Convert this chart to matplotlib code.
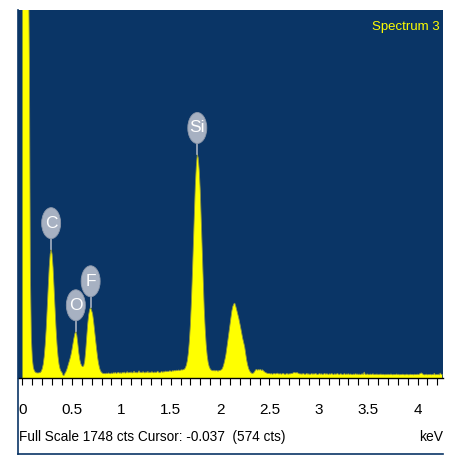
import numpy as np
import matplotlib
matplotlib.use('Agg')
import matplotlib.pyplot as plt
from matplotlib.patches import Ellipse
from matplotlib.lines import Line2D
from matplotlib.ticker import MultipleLocator, FuncFormatter

plt.rcParams['font.family'] = ['Liberation Sans Narrow', 'Liberation Sans', 'DejaVu Sans']

# Спектр: отсчёты по каналам с шагом 0.01 кэВ, начиная с 0
step = 0.01
counts = np.array([
    2600, 4200, 4800, 4500, 3600, 2700, 2000, 1500, 500, 190,   # 0.00
    90, 50, 35, 28, 25, 24, 24, 25, 26, 32,                     # 0.10
    44, 65, 102, 158, 234, 329, 431, 523, 588, 612,             # 0.20
    588, 523, 431, 329, 234, 158, 102, 65, 44, 32,              # 0.30
    26, 14, 12, 22, 30, 42, 58, 74, 90, 108,                    # 0.40
    132, 160, 188, 210, 222, 205, 165, 120, 88, 68,             # 0.50
    58, 54, 58, 80, 130, 195, 255, 300, 325, 336,               # 0.60
    320, 305, 270, 225, 180, 140, 100, 70, 48, 34,              # 0.70
    27, 23, 21, 22, 20, 23, 21, 24, 22, 20,                     # 0.80
    24, 21, 25, 23, 26, 22, 24, 27, 23, 25,                     # 0.90
    22, 26, 24, 28, 23, 25, 30, 24, 27, 25,                     # 1.00
    29, 24, 26, 32, 25, 28, 24, 27, 34, 26,                     # 1.10
    28, 25, 30, 27, 24, 29, 26, 31, 25, 28,                     # 1.20
    26, 30, 27, 25, 29, 26, 28, 32, 27, 25,                     # 1.30
    28, 31, 27, 30, 29, 33, 30, 32, 31, 34,                     # 1.40
    33, 31, 35, 33, 36, 34, 37, 35, 38, 36,                     # 1.50
    37, 39, 38, 40, 42, 49, 62, 84, 121, 177,                   # 1.60
    253, 358, 487, 633, 782, 915, 1005, 1064, 1045, 985,        # 1.70
    891, 752, 603, 459, 334, 235, 160, 108, 75, 55,             # 1.80
    44, 38, 36, 34, 37, 33, 36, 35, 32, 36,                     # 1.90
    36, 38, 42, 52, 68, 88, 112, 145, 180, 215,                 # 2.00
    250, 285, 318, 340, 352, 355, 340, 322, 303, 284,           # 2.10
    262, 238, 212, 188, 168, 148, 115, 85, 62, 45,              # 2.20
    34, 27, 23, 22, 24, 30, 38, 41, 37, 40,                     # 2.30
    38, 41, 36, 39, 34, 30, 26, 24, 22, 21,                     # 2.40
    22, 19, 21, 18, 20, 22, 19, 21, 23, 20,                     # 2.50
    19, 21, 18, 20, 22, 19, 17, 20, 21, 18,                     # 2.60
    20, 19, 22, 21, 24, 26, 25, 24, 26, 23,                     # 2.70
    21, 19, 20, 18, 21, 20, 17, 19, 22, 18,                     # 2.80
    20, 17, 19, 21, 18, 20, 19, 22, 18, 17,                     # 2.90
    19, 21, 18, 20, 17, 19, 22, 18, 20, 19,                     # 3.00
    17, 20, 18, 21, 19, 16, 20, 18, 19, 21,                     # 3.10
    18, 17, 20, 19, 16, 18, 21, 17, 19, 18,                     # 3.20
    20, 17, 19, 18, 16, 19, 17, 20, 18, 19,                     # 3.30
    17, 19, 16, 18, 20, 17, 28, 18, 17, 19,                     # 3.40
    18, 16, 19, 17, 18, 20, 16, 18, 17, 19,                     # 3.50
    16, 18, 17, 19, 16, 18, 17, 15, 18, 16,                     # 3.60
    18, 17, 16, 19, 17, 15, 18, 16, 17, 19,                     # 3.70
    16, 18, 15, 17, 16, 18, 17, 15, 16, 18,                     # 3.80
    17, 15, 16, 18, 16, 17, 15, 18, 16, 17,                     # 3.90
    18, 16, 19, 22, 24, 20, 17, 15, 16, 18,                     # 4.00
    15, 17, 16, 18, 15, 17, 16, 22, 15, 17,                     # 4.10
    16, 18, 15, 23, 17, 16,                                     # 4.20
])
energy = np.round(np.arange(len(counts)) * step, 2)

# Подписи пиков элементов
elements = ['C', 'O', 'F', 'Si']
element_energy = [0.29, 0.54, 0.69, 1.77]

full_scale = 1748
title = 'Spectrum 3'
status = 'Full Scale 1748 cts Cursor: -0.037  (574 cts)'

bg = '#0a3566'
yellow = '#ffff00'
badge = '#a7b1c2'

W, H = 450, 459
fig = plt.figure(figsize=(W / 100, H / 100), dpi=100)

x0, x1, y0, y1 = 17.7, 443, 10, 378
ax = fig.add_axes([x0 / W, 1 - y1 / H, (x1 - x0) / W, (y1 - y0) / H])
ax.set_facecolor(bg)
ax.set_xlim(-0.0486, 4.258)
ax.set_ylim(0, full_scale)

ax.fill_between(energy, counts, 0, color=yellow, lw=0, zorder=2)
ax.plot(energy, counts, color='#8c9440', lw=0.6, zorder=3)

# Овальные метки элементов над пиками
px_e = 1 / 98.75            # кэВ на пиксель
px_c = full_scale / (y1 - y0)  # отсчётов на пиксель
for name, e in zip(elements, element_energy):
    tip = counts[np.argmin(np.abs(energy - e))]
    cy = tip + 26 * px_c
    ax.plot([e, e], [tip, cy], color=badge, lw=1.2, zorder=4, clip_on=False)
    ax.add_patch(Ellipse((e, cy), 19 * px_e, 31 * px_c, facecolor=badge,
                         edgecolor='#8d98ab', lw=0.6, zorder=5, clip_on=False))
    ax.text(e, cy, name, color='white', fontsize=12.5, ha='center', va='center',
            zorder=6)

ax.text(0.993, 0.955, title, transform=ax.transAxes, color=yellow,
        fontsize=9.5, ha='right', va='center')

for s in ['left', 'right', 'top']:
    ax.spines[s].set_visible(False)
ax.spines['bottom'].set_color('black')
ax.spines['bottom'].set_linewidth(1)

ax.set_yticks([])
ax.xaxis.set_major_locator(MultipleLocator(0.5))
ax.xaxis.set_minor_locator(MultipleLocator(0.1))
ax.xaxis.set_major_formatter(FuncFormatter(lambda v, p: f'{v:g}'))
ax.tick_params(axis='x', which='both', direction='out', length=5, width=0.8,
               color='black')
ax.tick_params(axis='x', which='major', pad=13, labelsize=11)

fig.text(19 / W, 1 - 437 / H, status, fontsize=9.8, ha='left', va='center')
fig.text(443 / W, 1 - 437 / H, 'keV', fontsize=10, ha='right', va='center')

# Рамка слева и снизу
fig.add_artist(Line2D([18 / W, 18 / W], [1 - 10 / H, 1 - 454 / H],
                      color=bg, lw=1.2))
fig.add_artist(Line2D([18 / W, 443 / W], [1 - 454 / H, 1 - 454 / H],
                      color=bg, lw=1.2))

fig.savefig('out.png', dpi=100)
